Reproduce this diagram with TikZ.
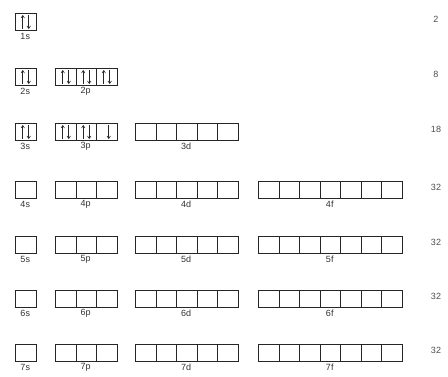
\documentclass[tikz,border=0pt]{standalone}
\usepackage{fontspec}
\setmainfont{Liberation Sans}
\usepackage{tikz}
\usetikzlibrary{arrows.meta}

\begin{document}
\begin{tikzpicture}[
  x=1pt, y=-1pt,
  orb/.style={draw=black!85, line width=1pt, minimum width=20.5pt, minimum height=17pt, inner sep=0pt, anchor=north west},
  lbl/.style={font=\fontsize{9}{9}\selectfont, text=black!80, inner sep=0pt},
  cnt/.style={font=\fontsize{9}{9}\selectfont, text=black!70, inner sep=0pt},
  spin/.style={-{Straight Barb[length=2.5pt,width=3.5pt]}, line width=0.6pt, black!85}
]
\useasboundingbox (0,0) rectangle (448,376);
% shells: number / top of boxes / capacity
\foreach \n/\top/\tot in {1/13/2, 2/68/8, 3/123/18, 4/181/32, 5/236/32, 6/290/32, 7/344/32}{
  \node[cnt] (tot\n) at (436,\top+6) {\tot};
  \foreach \l/\x/\k [count=\i] in {s/15/1, p/55/3, d/135/5, f/258/7}{
    \ifnum\i>\n\else
      \foreach \j in {1,...,\k}
        \node[orb] (\n\l\j) at ({\x+(\j-1)*20.5},\top) {};
      \node[lbl] (lbl\n\l) at ({\x+\k*10.25},\top+23) {\n\l};
    \fi
  }
}
% electrons
\foreach \b in {1s1, 2s1, 2p1, 2p2, 2p3, 3s1, 3p1, 3p2}{
  \draw[spin] ([xshift=-3pt,yshift=2pt]\b.south) -- ([xshift=-3pt,yshift=-2pt]\b.north);
  \draw[spin] ([xshift=3pt,yshift=-2pt]\b.north) -- ([xshift=3pt,yshift=2pt]\b.south);
}
\draw[spin] ([xshift=2pt,yshift=-2pt]3p3.north) -- ([xshift=2pt,yshift=2pt]3p3.south);
\end{tikzpicture}
\end{document}
